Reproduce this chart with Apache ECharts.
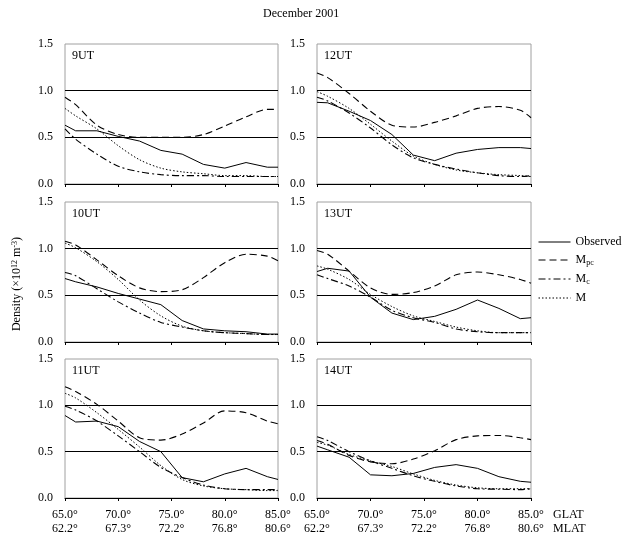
<!DOCTYPE html>
<html>
<head>
<meta charset="utf-8">
<script src="https://cdn.jsdelivr.net/npm/echarts@6/dist/echarts.min.js"></script>
<style>
  html, body { margin: 0; padding: 0; background: #fff; }
  #chart { width: 626px; height: 536px; }
</style>
</head>
<body>
<div id="chart"></div>
<script>
// GLAT positions of the samples
var glat = [65, 66, 68, 70, 72, 74, 76, 78, 80, 82, 84, 85];
var glatTicks = [65, 70, 75, 80, 85];
var mlatTicks = ['62.2°', '67.3°', '72.2°', '76.8°', '80.6°'];

// 9UT
var obs9 = [0.63, 0.57, 0.57, 0.51, 0.46, 0.36, 0.32, 0.21, 0.17, 0.23, 0.18, 0.18];
var mpc9 = [0.93, 0.85, 0.63, 0.53, 0.50, 0.50, 0.50, 0.53, 0.62, 0.72, 0.80, 0.80];
var mc9  = [0.59, 0.48, 0.32, 0.19, 0.13, 0.10, 0.09, 0.09, 0.08, 0.08, 0.08, 0.08];
var m9   = [0.81, 0.73, 0.59, 0.41, 0.26, 0.17, 0.13, 0.11, 0.09, 0.09, 0.08, 0.08];
// 12UT
var obs12 = [0.875, 0.87, 0.78, 0.68, 0.53, 0.31, 0.25, 0.33, 0.37, 0.39, 0.39, 0.38];
var mpc12 = [1.19, 1.14, 0.97, 0.78, 0.63, 0.61, 0.66, 0.73, 0.81, 0.83, 0.79, 0.71];
var mc12  = [0.93, 0.89, 0.76, 0.60, 0.42, 0.28, 0.21, 0.16, 0.12, 0.09, 0.08, 0.09];
var m12   = [0.99, 0.94, 0.81, 0.64, 0.46, 0.30, 0.21, 0.15, 0.12, 0.10, 0.09, 0.08];
// 10UT
var obs10 = [0.68, 0.645, 0.59, 0.52, 0.46, 0.40, 0.23, 0.14, 0.12, 0.11, 0.085, 0.085];
var mpc10 = [1.08, 1.04, 0.88, 0.71, 0.58, 0.54, 0.56, 0.69, 0.85, 0.94, 0.92, 0.87];
var mc10  = [0.745, 0.71, 0.57, 0.43, 0.31, 0.21, 0.16, 0.12, 0.10, 0.09, 0.08, 0.08];
var m10   = [1.06, 1.01, 0.86, 0.67, 0.45, 0.28, 0.17, 0.12, 0.10, 0.09, 0.08, 0.08];
// 13UT
var obs13 = [0.755, 0.79, 0.76, 0.48, 0.31, 0.24, 0.275, 0.35, 0.45, 0.36, 0.25, 0.26];
var mpc13 = [0.98, 0.94, 0.76, 0.58, 0.51, 0.53, 0.60, 0.72, 0.75, 0.72, 0.67, 0.63];
var mc13  = [0.72, 0.68, 0.60, 0.48, 0.34, 0.26, 0.21, 0.14, 0.11, 0.10, 0.10, 0.10];
var m13   = [0.815, 0.78, 0.67, 0.51, 0.38, 0.28, 0.22, 0.16, 0.12, 0.10, 0.10, 0.10];
// 11UT
var obs11 = [0.89, 0.82, 0.83, 0.77, 0.61, 0.50, 0.22, 0.175, 0.26, 0.32, 0.23, 0.20];
var mpc11 = [1.20, 1.15, 1.01, 0.83, 0.65, 0.625, 0.69, 0.81, 0.94, 0.92, 0.83, 0.80];
var mc11  = [0.99, 0.95, 0.83, 0.67, 0.50, 0.33, 0.22, 0.14, 0.10, 0.09, 0.09, 0.09];
var m11   = [1.13, 1.08, 0.92, 0.74, 0.55, 0.35, 0.20, 0.13, 0.10, 0.09, 0.08, 0.08];
// 14UT
var obs14 = [0.56, 0.52, 0.44, 0.25, 0.24, 0.265, 0.33, 0.36, 0.32, 0.23, 0.18, 0.17];
var mpc14 = [0.62, 0.58, 0.46, 0.39, 0.37, 0.42, 0.51, 0.63, 0.67, 0.675, 0.65, 0.63];
var mc14  = [0.66, 0.62, 0.50, 0.40, 0.32, 0.24, 0.18, 0.13, 0.10, 0.095, 0.09, 0.10];
var m14   = [0.60, 0.57, 0.47, 0.40, 0.34, 0.26, 0.19, 0.14, 0.11, 0.10, 0.10, 0.10];

var panels = [
    { ut: '9UT',  obs: obs9,  mpc: mpc9,  mc: mc9,  m: m9 },
    { ut: '12UT', obs: obs12, mpc: mpc12, mc: mc12, m: m12 },
    { ut: '10UT', obs: obs10, mpc: mpc10, mc: mc10, m: m10 },
    { ut: '13UT', obs: obs13, mpc: mpc13, mc: mc13, m: m13 },
    { ut: '11UT', obs: obs11, mpc: mpc11, mc: mc11, m: m11 },
    { ut: '14UT', obs: obs14, mpc: mpc14, mc: mc14, m: m14 }
];

var font = "'Liberation Serif', 'Times New Roman', serif";
var lefts = [65, 317];
var widths = [213, 214];
var tops = [44, 202, 359];
var h = 140;

var grids = [], xAxes = [], yAxes = [], series = [];
var titles = [{
    text: 'December 2001', left: 263, top: 8, padding: 0,
    textStyle: { fontFamily: font, fontSize: 12, fontWeight: 'normal', color: '#000' }
}];

function pairs(arr) {
    return glat.map(function (x, j) { return [x, arr[j]]; });
}

var styles = {
    Observed: { type: 'solid', width: 1 },
    Mpc: { type: [7, 4], width: 1.1 },
    Mc: { type: [7, 3, 2, 3], width: 1.1 },
    M: { type: [1.5, 2], width: 1 }
};

panels.forEach(function (p, i) {
    var col = i % 2, row = Math.floor(i / 2);
    grids.push({
        left: lefts[col], top: tops[row], width: widths[col], height: h,
        show: true, borderColor: '#a0a0a0', borderWidth: 1, backgroundColor: 'transparent'
    });
    titles.push({
        text: p.ut, left: lefts[col] + 7, top: tops[row] + 6, padding: 0,
        textStyle: { fontFamily: font, fontSize: 12, fontWeight: 'normal', color: '#000' }
    });
    var xa = {
        type: 'value', gridIndex: i, min: 65, max: 85, interval: 5,
        axisLine: { lineStyle: { color: '#000', width: 1 } },
        axisTick: { length: 3, lineStyle: { color: '#000' } },
        splitLine: { show: false },
        axisLabel: {
            show: row === 2, margin: 10, color: '#000', fontFamily: font, fontSize: 12, lineHeight: 14,
            formatter: function (v) {
                var k = glatTicks.indexOf(v);
                return v.toFixed(1) + '°\n' + mlatTicks[k];
            }
        }
    };
    if (i === 5) {
        xa.name = 'GLAT\nMLAT';
        xa.nameLocation = 'end';
        xa.nameGap = 22;
        xa.nameTextStyle = {
            fontFamily: font, fontSize: 12, color: '#000', lineHeight: 14,
            align: 'left', verticalAlign: 'top', padding: [10, 0, 0, 0]
        };
    }
    xAxes.push(xa);
    var ya = {
        type: 'value', gridIndex: i, min: 0, max: 1.5, interval: 0.5,
        axisLine: { show: false },
        axisTick: { show: false },
        axisLabel: {
            color: '#000', fontFamily: font, fontSize: 12, margin: 12,
            formatter: function (v) { return v.toFixed(1); }
        },
        splitLine: { show: true, showMinLine: false, showMaxLine: false, lineStyle: { color: '#000', width: 1 } }
    };
    if (i === 2) {
        ya.name = 'Density (×10{sup|12} m{sup|-3})';
        ya.nameLocation = 'middle';
        ya.nameGap = 42;
        ya.nameTextStyle = {
            fontFamily: font, fontSize: 12, color: '#000', padding: [0, 24, 0, 0],
            rich: { sup: { fontFamily: font, fontSize: 8, verticalAlign: 'top', color: '#000' } }
        };
    }
    yAxes.push(ya);
    [['Observed', p.obs], ['Mpc', p.mpc], ['Mc', p.mc], ['M', p.m]].forEach(function (s) {
        series.push({
            name: s[0], type: 'line', xAxisIndex: i, yAxisIndex: i,
            data: pairs(s[1]), symbol: 'none', showSymbol: false,
            smooth: s[0] === 'Observed' ? false : 0.3,
            silent: true, animation: false,
            itemStyle: { color: '#000' },
            lineStyle: { color: '#000', width: styles[s[0]].width, type: styles[s[0]].type }
        });
    });
});

var subs = { Observed: 'Observed', Mpc: 'M{sub|pc}', Mc: 'M{sub|c}', M: 'M' };

var chart = echarts.init(document.getElementById('chart'));
chart.setOption({
    animation: false,
    backgroundColor: '#fff',
    title: titles,
    grid: grids,
    xAxis: xAxes,
    yAxis: yAxes,
    legend: {
        data: ['Observed', 'Mpc', 'Mc', 'M'],
        orient: 'vertical', left: 538, top: 236,
        itemWidth: 32, itemHeight: 10, itemGap: 6, padding: 0,
        selectedMode: false,
        itemStyle: { opacity: 0 },
        lineStyle: { width: 1 },
        formatter: function (n) { return subs[n]; },
        textStyle: {
            fontFamily: font, fontSize: 12, color: '#000',
            rich: { sub: { fontFamily: font, fontSize: 8, verticalAlign: 'bottom', color: '#000', padding: [6, 0, 0, 0] } }
        }
    },
    series: series
});
</script>
</body>
</html>
